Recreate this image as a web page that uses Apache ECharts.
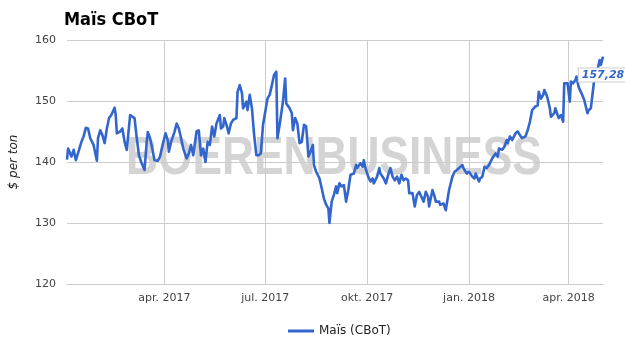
<!DOCTYPE html>
<html><head><meta charset="utf-8">
<script src="https://cdn.jsdelivr.net/npm/echarts@6/dist/echarts.min.js"></script>
<style>html,body{margin:0;padding:0;background:#fff}#c{width:625px;height:355px}</style>
</head><body><div id="c"></div>
<script>
const chartTitle = 'Maïs CBoT';
const seriesName = 'Maïs (CBoT)';
const yAxisName = '$ per ton';
const watermarkText = 'BOERENBUSINESS';

const dates = [
'2017-01-03','2017-01-04','2017-01-07','2017-01-09','2017-01-11','2017-01-13','2017-01-16','2017-01-18','2017-01-20','2017-01-22',
'2017-01-24','2017-01-25','2017-01-27','2017-01-30','2017-01-31','2017-02-02','2017-02-04','2017-02-06','2017-02-08','2017-02-10',
'2017-02-12','2017-02-15','2017-02-16','2017-02-17','2017-02-20','2017-02-22','2017-02-24','2017-02-26','2017-03-01','2017-03-02',
'2017-03-05','2017-03-07','2017-03-09','2017-03-11','2017-03-14','2017-03-16','2017-03-17','2017-03-19','2017-03-21','2017-03-23',
'2017-03-26','2017-03-28','2017-03-31','2017-04-02','2017-04-04','2017-04-05','2017-04-07','2017-04-10','2017-04-12','2017-04-14',
'2017-04-16','2017-04-18','2017-04-21','2017-04-23','2017-04-25','2017-04-27','2017-04-30','2017-05-02','2017-05-04','2017-05-06',
'2017-05-08','2017-05-10','2017-05-12','2017-05-14','2017-05-16','2017-05-18','2017-05-20','2017-05-21','2017-05-22','2017-05-24',
'2017-05-25','2017-05-27','2017-05-29','2017-05-31','2017-06-02','2017-06-05','2017-06-06','2017-06-08','2017-06-10','2017-06-11',
'2017-06-14','2017-06-15','2017-06-17','2017-06-19','2017-06-21','2017-06-23','2017-06-25','2017-06-27','2017-06-29','2017-07-01',
'2017-07-03','2017-07-05','2017-07-07','2017-07-09','2017-07-11','2017-07-12','2017-07-14','2017-07-17','2017-07-19','2017-07-20',
'2017-07-23','2017-07-25','2017-07-26','2017-07-28','2017-07-30','2017-08-01','2017-08-03','2017-08-05','2017-08-07','2017-08-09',
'2017-08-11','2017-08-13','2017-08-14','2017-08-16','2017-08-19','2017-08-21','2017-08-23','2017-08-25','2017-08-27','2017-08-28',
'2017-08-30','2017-09-01','2017-09-03','2017-09-04','2017-09-06','2017-09-08','2017-09-10','2017-09-12','2017-09-14','2017-09-16',
'2017-09-19','2017-09-21','2017-09-22','2017-09-25','2017-09-27','2017-09-28','2017-09-30','2017-10-02','2017-10-04','2017-10-06',
'2017-10-07','2017-10-10','2017-10-12','2017-10-13','2017-10-16','2017-10-18','2017-10-20','2017-10-22','2017-10-24','2017-10-26',
'2017-10-28','2017-10-30','2017-11-01','2017-11-03','2017-11-05','2017-11-07','2017-11-08','2017-11-11','2017-11-13','2017-11-15',
'2017-11-17','2017-11-19','2017-11-21','2017-11-23','2017-11-25','2017-11-26','2017-11-29','2017-12-01','2017-12-02','2017-12-05',
'2017-12-06','2017-12-09','2017-12-11','2017-12-12','2017-12-14','2017-12-17','2017-12-19','2017-12-21','2017-12-23','2017-12-26',
'2017-12-27','2017-12-30','2018-01-01','2018-01-04','2018-01-06','2018-01-07','2018-01-10','2018-01-11','2018-01-13','2018-01-15',
'2018-01-17','2018-01-19','2018-01-22','2018-01-23','2018-01-25','2018-01-27','2018-01-28','2018-01-31','2018-02-02','2018-02-04',
'2018-02-05','2018-02-07','2018-02-09','2018-02-12','2018-02-14','2018-02-16','2018-02-18','2018-02-21','2018-02-22','2018-02-23',
'2018-02-25','2018-02-27','2018-02-28','2018-03-02','2018-03-04','2018-03-05','2018-03-07','2018-03-09','2018-03-10','2018-03-12',
'2018-03-13','2018-03-15','2018-03-16','2018-03-19','2018-03-20','2018-03-22','2018-03-23','2018-03-25','2018-03-27','2018-03-28',
'2018-03-29','2018-03-31','2018-04-02','2018-04-03','2018-04-05','2018-04-07','2018-04-08','2018-04-10','2018-04-12','2018-04-15',
'2018-04-16','2018-04-18','2018-04-19','2018-04-21','2018-04-23','2018-04-24','2018-04-26','2018-04-27','2018-04-29','2018-04-30',
'2018-05-02'
];

const values = [
140.4,142.2,140.9,142.0,140.3,141.5,143.3,144.2,145.6,145.5,
143.9,144.0,142.8,140.2,143.9,145.2,144.4,143.1,145.5,147.2,
147.7,148.9,147.7,144.7,145.0,145.5,143.3,142.0,147.7,147.8,
147.2,143.9,141.1,140.0,138.7,143.3,144.9,143.9,142.2,140.3,
140.2,140.9,143.3,144.7,143.6,141.7,143.3,144.9,146.3,145.5,
143.9,142.2,140.6,141.4,142.8,141.1,145.0,145.2,141.1,142.2,
140.0,143.3,142.8,145.8,144.2,146.3,147.2,147.7,145.5,145.8,
147.2,146.1,144.7,146.3,146.9,147.2,151.5,152.6,151.3,148.8,
149.9,148.5,151.0,148.8,144.4,141.1,141.1,141.4,146.1,148.2,
150.4,151.0,152.6,154.3,154.8,143.9,146.1,149.9,153.7,149.6,
148.8,148.0,145.2,147.2,146.3,143.1,143.3,146.1,145.8,140.9,
141.7,142.8,139.5,138.4,137.3,135.7,134.0,133.0,132.4,130.0,
133.5,134.6,136.0,134.9,136.5,136.0,136.2,133.5,135.4,137.9,
138.1,139.5,139.0,139.8,139.2,140.3,138.7,137.6,136.8,137.3,
136.5,137.6,139.0,138.1,137.3,136.5,137.9,139.0,137.6,137.0,
137.6,136.5,137.9,137.0,137.3,137.0,134.9,134.9,132.7,134.6,
135.1,134.3,133.5,135.1,134.3,132.7,135.4,134.3,133.5,133.5,
133.0,133.2,132.1,131.9,135.4,137.6,138.4,138.7,139.0,139.5,
139.0,138.1,138.4,137.6,137.3,138.1,136.8,137.3,137.6,139.2,
139.0,139.5,140.6,140.3,141.4,140.9,142.2,142.0,142.5,143.6,
143.1,144.2,143.6,144.7,145.0,144.4,143.9,144.2,144.4,145.2,
146.6,148.5,148.8,149.1,149.3,151.5,150.4,151.0,151.8,151.0,
150.4,148.8,147.4,148.0,148.8,147.7,147.2,147.7,146.6,152.9,
152.6,152.9,149.9,153.2,152.9,153.4,154.0,152.3,151.5,150.2,
149.9,148.0,148.5,148.8,151.8,153.4,153.7,155.1,156.7,155.9,
157.28
];

const tickDates = ['2017-04-01','2017-07-01','2017-10-01','2018-01-01','2018-04-01'];
const tickLabels = ['apr. 2017','jul. 2017','okt. 2017','jan. 2018','apr. 2018'];
const yTicks = [120, 130, 140, 150, 160];

function toTime(s) {
  const p = s.split('-').map(Number);
  return Date.UTC(p[0], p[1] - 1, p[2]);
}
const tickTimes = tickDates.map(toTime);
const seriesData = dates.map((d, i) => [toTime(d), values[i]]);
const lastIdx = values.length - 1;
const fontFam = "'DejaVu Sans', Verdana, sans-serif";

const chart = echarts.init(document.getElementById('c'), null, {renderer: 'canvas'});
chart.setOption({
  animation: false,
  backgroundColor: '#ffffff',
  title: {
    text: chartTitle, left: 64, top: 11, padding: 0,
    textStyle: {fontFamily: "'DejaVu Sans Condensed', 'DejaVu Sans', sans-serif", fontWeight: 'bold', fontSize: 18, color: '#000'}
  },
  graphic: [{
    type: 'text', x: 334, y: 159, scaleX: 0.82, z: 0, silent: true,
    style: {text: watermarkText, x: 0, y: 0, align: 'center', verticalAlign: 'middle',
      font: "bold 54px 'Liberation Sans', Arial, sans-serif", fill: '#d4d4d4'}
  }],
  legend: {
    left: 283, top: 320, icon: 'rect', itemWidth: 26, itemHeight: 3,
    textStyle: {fontFamily: fontFam, fontSize: 12, color: '#222'},
    data: [seriesName]
  },
  grid: {left: 64, right: 22, top: 40, bottom: 71, containLabel: false},
  xAxis: {
    type: 'value',
    min: seriesData[0][0], max: seriesData[lastIdx][0],
    axisLine: {show: true, lineStyle: {color: '#cccccc', width: 1}},
    axisTick: {show: false, customValues: tickTimes},
    splitLine: {show: true, showMinLine: true, showMaxLine: true, lineStyle: {color: '#cccccc', width: 1}},
    axisLabel: {
      customValues: tickTimes, margin: 9, hideOverlap: false,
      fontFamily: fontFam, fontSize: 11, color: '#444',
      formatter: function (v) {
        for (let i = 0; i < tickTimes.length; i++) {
          if (Math.abs(tickTimes[i] - v) < 43200000) return tickLabels[i];
        }
        return '';
      }
    }
  },
  yAxis: {
    type: 'value', min: yTicks[0], max: yTicks[yTicks.length - 1], interval: yTicks[1] - yTicks[0],
    name: yAxisName, nameLocation: 'middle', nameGap: 47, nameRotate: 90,
    nameTextStyle: {fontFamily: fontFam, fontSize: 12, fontStyle: 'italic', color: '#222'},
    axisLine: {show: false}, axisTick: {show: false},
    splitLine: {lineStyle: {color: '#cccccc', width: 1}},
    axisLabel: {fontFamily: fontFam, fontSize: 11, color: '#444', margin: 11}
  },
  series: [{
    name: seriesName, type: 'line', data: seriesData, z: 3,
    showSymbol: false, symbol: 'none',
    lineStyle: {color: '#3366cc', width: 2.6, join: 'round'},
    itemStyle: {color: '#3366cc'},
    markPoint: {
      symbol: 'circle', symbolSize: 1, silent: true,
      itemStyle: {color: 'rgba(0,0,0,0)'},
      label: {
        show: true, position: 'inside', offset: [0, 18.5],
        formatter: function () { return values[lastIdx].toFixed(2).replace('.', ','); },
        fontFamily: fontFam, fontSize: 11, fontWeight: 'bold', fontStyle: 'italic', color: '#3366cc',
        backgroundColor: '#ffffff', borderColor: '#cccccc', borderWidth: 1, padding: [1, 3]
      },
      data: [{coord: seriesData[lastIdx]}]
    }
  }]
});
</script>
</body></html>
